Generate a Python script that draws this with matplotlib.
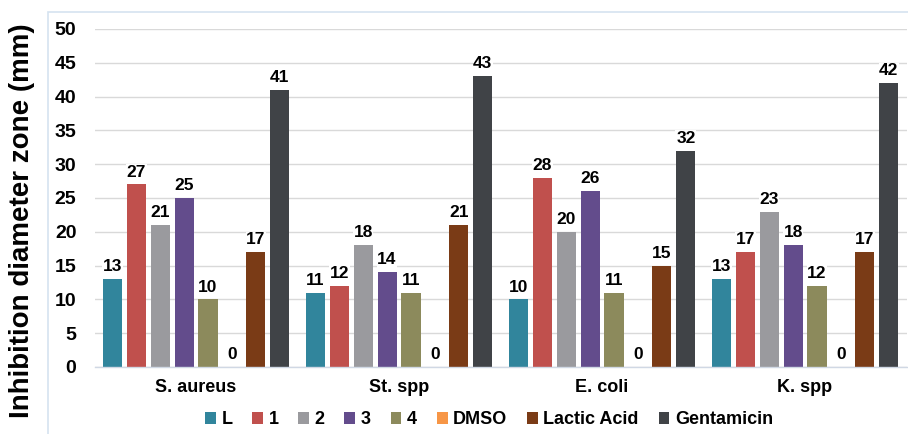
import numpy as np
import matplotlib
matplotlib.use("Agg")
import matplotlib.pyplot as plt
from matplotlib.patches import Rectangle

plt.rcParams['font.family'] = ['Liberation Sans', 'DejaVu Sans']
plt.rcParams['font.weight'] = 'bold'

# data
organisms = ["S. aureus", "St. spp", "E. coli", "K. spp"]
series = ["L", "1", "2", "3", "4", "DMSO", "Lactic Acid", "Gentamicin"]
values = [
    [13, 11, 10, 13],   # L
    [27, 12, 28, 17],   # 1
    [21, 18, 20, 23],   # 2
    [25, 14, 26, 18],   # 3
    [10, 11, 11, 12],   # 4
    [0, 0, 0, 0],       # DMSO
    [17, 21, 15, 17],   # Lactic Acid
    [41, 43, 32, 42],   # Gentamicin
]
colors = ["#31859C", "#C0504D", "#9A9A9E", "#634C8C", "#8C8A5C",
          "#F79646", "#7A3B16", "#404347"]

fig = plt.figure(figsize=(9.08, 4.34), dpi=100)
ax = fig.add_axes([0.1041, 0.1544, 0.8943, 0.7788])

# thin frame round the chart
fig.patches.append(Rectangle((48 / 908, -0.1), 1.0, 1 - 12 / 434 + 0.1,
                             transform=fig.transFigure, fill=False,
                             edgecolor="#D5E3F0", linewidth=1.2))

x = np.arange(len(organisms))
pitch = 0.118
width = 0.094
for i, (name, vals, c) in enumerate(zip(series, values, colors)):
    pos = x + (i - 3.5) * pitch
    bars = ax.bar(pos, vals, width, color=c, label=name, zorder=2)
    for b, v in zip(bars, vals):
        ax.annotate(str(v), (b.get_x() + b.get_width() / 2, v),
                    xytext=(0, 3.5), textcoords="offset points",
                    ha="center", va="bottom", fontsize=12.5, fontweight="bold",
                    zorder=3,
                    bbox=dict(facecolor="white", edgecolor="none", pad=0.5))

ax.set_xlim(-0.5, len(organisms) - 0.5)
ax.set_ylim(0, 50)
ax.set_yticks(range(0, 51, 5))
ax.set_xticks(x)
ax.set_xticklabels(organisms, fontsize=13, fontweight="bold")
ax.tick_params(axis="y", length=0, pad=13, labelsize=14)
ax.tick_params(axis="x", length=0, pad=9)
ax.yaxis.grid(True, color="#D9D9D9", linewidth=1, zorder=0)
ax.set_axisbelow(True)
for s in ["top", "right", "left"]:
    ax.spines[s].set_visible(False)
ax.spines["bottom"].set_color("#D0D8E4")
ax.spines["bottom"].set_linewidth(1)

fig.text(22 / 908, 1 - 221 / 434, "Inhibition diameter zone (mm)", rotation=90,
         ha="center", va="center", fontsize=20, fontweight="bold")

ax.legend(loc="center", bbox_to_anchor=(489 / 908, (434 - 420) / 434),
          bbox_transform=fig.transFigure, ncol=8, frameon=False,
          fontsize=13, handlelength=0.6, handleheight=0.6,
          handletextpad=0.3, columnspacing=1.1)

fig.savefig("out.png", dpi=100)
